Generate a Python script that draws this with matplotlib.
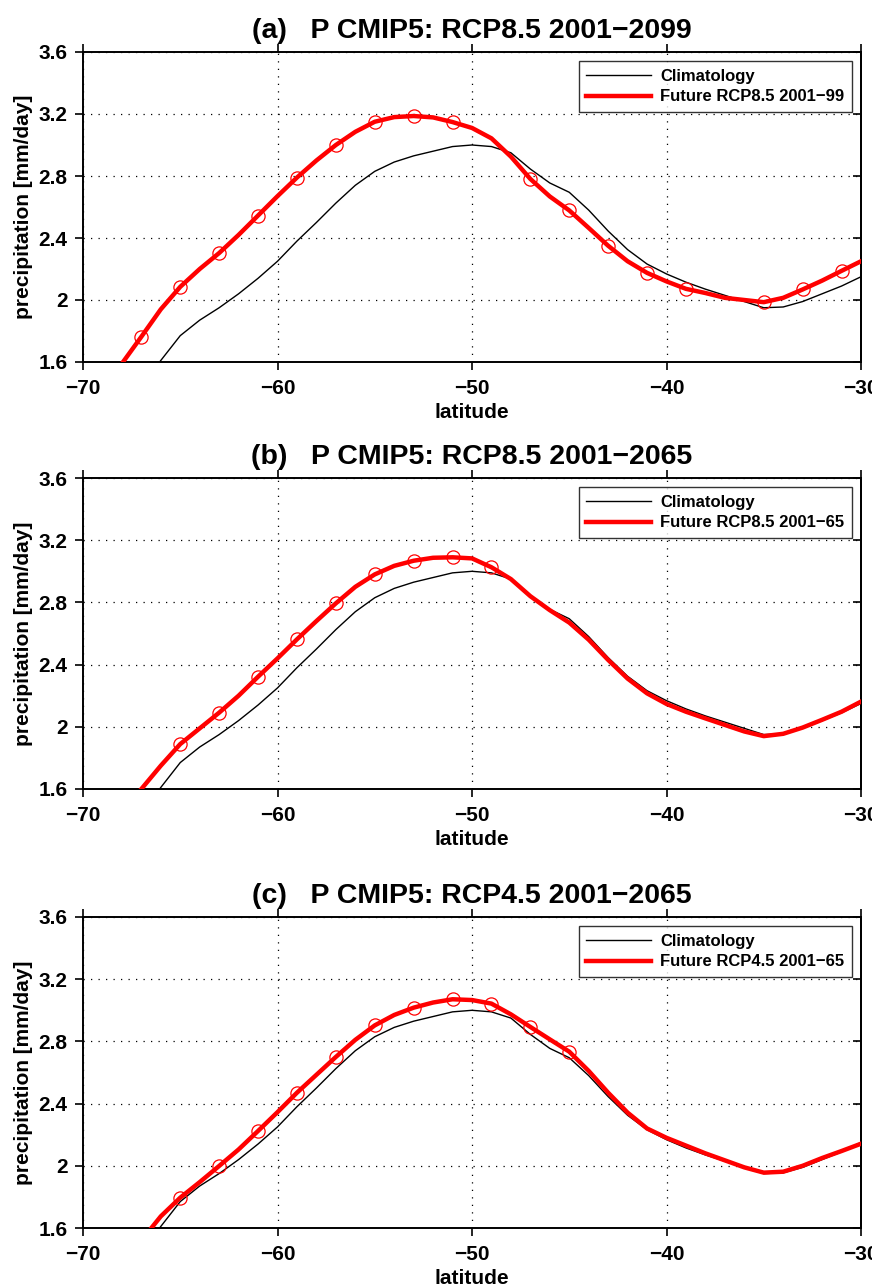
import numpy as np
import matplotlib
matplotlib.use("Agg")
import matplotlib.pyplot as plt
from matplotlib.ticker import FormatStrFormatter

plt.rcParams['font.family'] = ['Liberation Sans', 'DejaVu Sans']
plt.rcParams['font.weight'] = 'bold'

# latitude grid (deg)
lat = list(range(-70, -29))

# zonal-mean precipitation [mm/day]
clim = [1.02, 1.15, 1.29, 1.44, 1.61, 1.77, 1.87, 1.95, 2.04, 2.14,
        2.25, 2.38, 2.50, 2.625, 2.74, 2.83, 2.89, 2.93, 2.96, 2.99,
        3.00, 2.99, 2.95, 2.845, 2.755, 2.695, 2.58, 2.445, 2.325, 2.232,
        2.168, 2.115, 2.07, 2.03, 1.99, 1.95, 1.955, 1.99, 2.04, 2.09, 2.15]

rcp85_99 = [1.22, 1.40, 1.59, 1.763, 1.94, 2.085, 2.20, 2.303, 2.42, 2.545,
            2.67, 2.79, 2.90, 3.00, 3.085, 3.15, 3.18, 3.187, 3.178, 3.148,
            3.11, 3.043, 2.925, 2.781, 2.668, 2.578, 2.465, 2.35, 2.25, 2.175,
            2.12, 2.072, 2.045, 2.014, 2.0, 1.986, 2.014, 2.068, 2.125, 2.188, 2.25]

rcp85_65 = [1.15, 1.30, 1.45, 1.60, 1.75, 1.889, 1.99, 2.091, 2.20, 2.322,
            2.44, 2.5625, 2.68, 2.794, 2.90, 2.98, 3.035, 3.068, 3.087, 3.09,
            3.083, 3.026, 2.95, 2.84, 2.75, 2.67, 2.56, 2.43, 2.31, 2.215,
            2.147, 2.097, 2.054, 2.012, 1.97, 1.94, 1.955, 1.995, 2.045, 2.097, 2.162]

rcp45_65 = [1.14, 1.26, 1.38, 1.52, 1.675, 1.795, 1.895, 1.999, 2.105, 2.224,
            2.345, 2.47, 2.585, 2.70, 2.81, 2.903, 2.97, 3.017, 3.05, 3.071,
            3.066, 3.043, 2.974, 2.893, 2.813, 2.734, 2.61, 2.47, 2.342, 2.24,
            2.18, 2.13, 2.08, 2.035, 1.99, 1.956, 1.962, 2.0, 2.05, 2.095, 2.142]

# latitudes carrying a circle marker on the future curve
marks_a = [-67, -65, -63, -61, -59, -57, -55, -53, -51, -47, -45, -43, -41, -39, -35, -33, -31]
marks_b = [-65, -63, -61, -59, -57, -55, -53, -51, -49]
marks_c = [-65, -63, -61, -59, -57, -55, -53, -51, -49, -47, -45]

titles = ["(a)   P CMIP5: RCP8.5 2001\u22122099",
          "(b)   P CMIP5: RCP8.5 2001\u22122065",
          "(c)   P CMIP5: RCP4.5 2001\u22122065"]
labels = ["Future RCP8.5 2001\u221299",
          "Future RCP8.5 2001\u221265",
          "Future RCP4.5 2001\u221265"]
futures = [rcp85_99, rcp85_65, rcp45_65]
marks = [marks_a, marks_b, marks_c]

xticks = [-70, -60, -50, -40, -30]
yticks = [1.6, 2.0, 2.4, 2.8, 3.2, 3.6]

W, H = 872, 1288
fig = plt.figure(figsize=(W / 100, H / 100), dpi=100)

# axes boxes in pixels: (top, bottom)
boxes = [(52, 362), (478, 789), (917, 1228)]
left_px, right_px = 83, 861

lat_arr = np.array(lat)
for i in range(3):
    top, bot = boxes[i]
    ax = fig.add_axes([left_px / W, 1 - bot / H, (right_px - left_px) / W, (bot - top) / H])
    fut = np.array(futures[i])
    ax.plot(lat, clim, color='black', lw=1.0, label='Climatology', zorder=3)
    ax.plot(lat, fut, color='red', lw=3.2, label=labels[i], zorder=4,
            solid_joinstyle='round')
    sel = np.isin(lat_arr, marks[i])
    ax.plot(lat_arr[sel], fut[sel], ls='none', marker='o', ms=9.5, mfc='none',
            mec='red', mew=0.9, zorder=5)

    ax.set_xlim(-70, -30)
    ax.set_ylim(1.6, 3.6)
    ax.set_xticks(xticks)
    ax.set_yticks(yticks)
    ax.yaxis.set_major_formatter(FormatStrFormatter('%g'))
    ax.grid(True, color='black', ls=(0, (1, 5)), lw=0.9)
    ax.tick_params(axis='both', direction='out', length=6, width=1.2,
                   labelsize=15, top=True)
    ax.tick_params(axis='x', pad=6)
    ax.tick_params(axis='y', pad=5)
    for lab in ax.get_xticklabels() + ax.get_yticklabels():
        lab.set_fontweight('bold')
    sec = ax.secondary_yaxis('right')
    sec.set_yticks(yticks)
    sec.set_yticklabels([])
    sec.tick_params(direction='in', length=6, width=1.2)
    for s in ax.spines.values():
        s.set_linewidth(1.4)
    sec.spines['right'].set_linewidth(1.4)

    ax.set_title(titles[i], fontsize=20.5, fontweight='bold', pad=10)
    ax.set_xlabel('latitude', fontsize=15, fontweight='bold', labelpad=4)
    ax.set_ylabel('precipitation [mm/day]', fontsize=15, fontweight='bold', labelpad=4)

    leg = ax.legend(loc='upper right', fontsize=12, frameon=True, fancybox=False,
                    handlelength=3.9, handletextpad=0.55, borderaxespad=0.55,
                    borderpad=0.45, labelspacing=0.35)
    leg.get_frame().set_edgecolor('black')
    leg.get_frame().set_linewidth(1.0)
    leg.set_zorder(10)
    for t in leg.get_texts():
        t.set_fontweight('bold')

fig.savefig('out.png', dpi=100)
